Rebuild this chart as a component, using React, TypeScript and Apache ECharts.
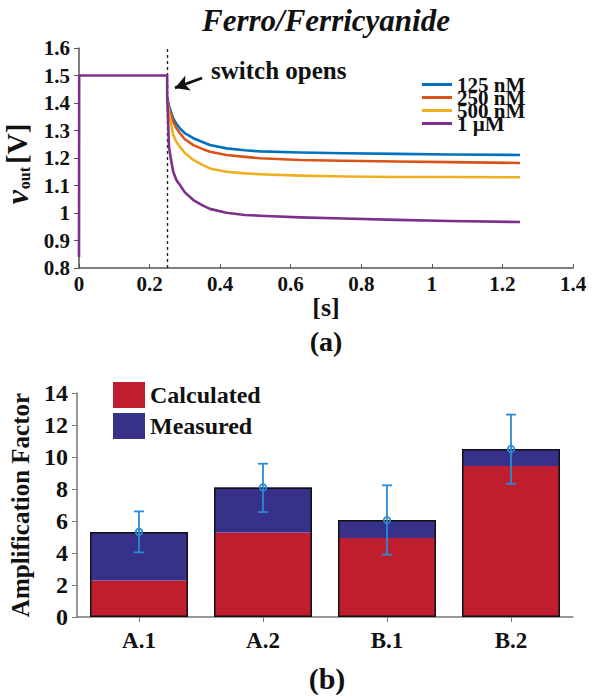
import React, { useEffect, useRef } from "react";
import * as echarts from "echarts";

// ---- Panel (a): Ferro/Ferricyanide transient ----
const tAfter = [0.25, 0.255, 0.26, 0.267, 0.276, 0.286, 0.3, 0.324, 0.35, 0.371, 0.418, 0.47, 0.513, 0.626, 0.75, 0.9, 1.05, 1.25];
const v125nM = [1.42, 1.39, 1.37, 1.344, 1.324, 1.308, 1.29, 1.272, 1.258, 1.247, 1.235, 1.228, 1.224, 1.22, 1.217, 1.215, 1.213, 1.211];
const v250nM = [1.42, 1.38, 1.36, 1.332, 1.308, 1.29, 1.268, 1.247, 1.233, 1.223, 1.211, 1.204, 1.199, 1.193, 1.19, 1.187, 1.185, 1.182];
const v500nM = [1.41, 1.36, 1.33, 1.284, 1.258, 1.241, 1.218, 1.193, 1.175, 1.162, 1.15, 1.144, 1.141, 1.136, 1.133, 1.131, 1.131, 1.13];
const v1uM = [1.43, 1.24, 1.2, 1.15, 1.12, 1.102, 1.075, 1.047, 1.028, 1.015, 1.001, 0.993, 0.99, 0.984, 0.98, 0.975, 0.971, 0.967];
const tBefore = [0, 0.0005, 0.2498];
const v1uMBefore = [0.84, 1.5, 1.5];
const lineNames = ["125 nM", "250 nM", "500 nM", "1 µM"];
const lineColors = ["#0072bd", "#d95319", "#edb120", "#7e2f8e"];
const switchTime = 0.25;

// ---- Panel (b): Amplification factor ----
const sensors = ["A.1", "A.2", "B.1", "B.2"];
const calculated = [2.28, 5.28, 4.93, 9.43];
const measuredMean = [5.32, 8.1, 6.06, 10.5];
const measuredLow = [4.04, 6.56, 3.9, 8.33];
const measuredHigh = [6.6, 9.58, 8.23, 12.65];

const FONT = "Liberation Serif";

function pairs(xs: number[], ys: number[]) {
  return xs.map((x, i) => [x, ys[i]]);
}

export default function App() {
  const ref = useRef<HTMLDivElement>(null);
  useEffect(() => {
    if (!ref.current) return;
    const chart = echarts.init(ref.current, null, { renderer: "svg" });
    const lineSeriesData = [
      pairs(tAfter, v125nM),
      pairs(tAfter, v250nM),
      pairs(tAfter, v500nM),
      pairs(tBefore, v1uMBefore).concat(pairs(tAfter, v1uM)),
    ];
    const lineSeries: any[] = lineNames.map((name, i) => ({
      name,
      type: "line",
      xAxisIndex: 0,
      yAxisIndex: 0,
      data: lineSeriesData[i],
      showSymbol: false,
      smooth: false,
      color: lineColors[i],
      lineStyle: { width: 2.6, color: lineColors[i], join: "round" },
      z: 3,
    }));
    lineSeries[0].markLine = {
      silent: true,
      symbol: "none",
      label: { show: false },
      lineStyle: { type: [3, 3], color: "#222", width: 1.4 },
      data: [{ xAxis: switchTime }],
      z: 1,
    };
    lineSeries[3].markLine = {
      silent: true,
      symbol: ["none", "arrow"],
      symbolSize: [12, 14],
      label: { show: false },
      lineStyle: { type: "solid", color: "#111", width: 2.8 },
      data: [[{ coord: [0.349, 1.491] }, { coord: [0.272, 1.455] }]],
    };

    const measuredExtra = measuredMean.map((m, i) => +(m - calculated[i]).toFixed(3));

    const option: any = {
      animation: false,
      textStyle: { fontFamily: FONT },
      graphic: [
        {
          type: "text",
          x: 326,
          y: 20,
          style: {
            text: "Ferro/Ferricyanide",
            font: `italic bold 31px "${FONT}"`,
            fill: "#111",
            align: "center",
            verticalAlign: "middle",
          },
        },
        {
          type: "text",
          x: 211,
          y: 70,
          style: {
            text: "switch opens",
            font: `bold 25px "${FONT}"`,
            fill: "#111",
            align: "left",
            verticalAlign: "middle",
          },
        },
        {
          type: "text",
          x: 326,
          y: 341,
          style: {
            text: "(a)",
            font: `bold 28px "${FONT}"`,
            fill: "#111",
            align: "center",
            verticalAlign: "middle",
          },
        },
        {
          type: "text",
          x: 327,
          y: 678,
          style: {
            text: "(b)",
            font: `bold 30px "${FONT}"`,
            fill: "#111",
            align: "center",
            verticalAlign: "middle",
          },
        },
      ],
      legend: [
        {
          data: lineNames,
          orient: "vertical",
          left: 422,
          top: 74,
          padding: 0,
          itemGap: -8,
          itemWidth: 30,
          itemHeight: 3,
          icon: "rect",
          selectedMode: false,
          textStyle: { fontFamily: FONT, fontSize: 21, fontWeight: "bold", color: "#111" },
        },
        {
          data: ["Calculated", "Measured"],
          orient: "vertical",
          left: 113,
          top: 382,
          padding: 0,
          itemGap: 5,
          itemWidth: 32,
          itemHeight: 26,
          icon: "rect",
          selectedMode: false,
          textStyle: { fontFamily: FONT, fontSize: 24, fontWeight: "bold", color: "#111", lineHeight: 26 },
        },
      ],
      grid: [
        { left: 79, top: 48, width: 494, height: 220, outerBoundsMode: "none", containLabel: false },
        { left: 77, top: 393, width: 496, height: 224, outerBoundsMode: "none", containLabel: false },
      ],
      xAxis: [
        {
          gridIndex: 0,
          type: "value",
          min: 0,
          max: 1.4,
          interval: 0.2,
          name: "[s]",
          nameLocation: "middle",
          nameGap: 26,
          nameTextStyle: { fontFamily: FONT, fontSize: 26, fontWeight: "bold", color: "#111" },
          axisLine: { lineStyle: { color: "#555", width: 1.5 } },
          axisTick: { show: true, inside: true, length: 4, lineStyle: { color: "#555" } },
          splitLine: { show: false },
          axisLabel: {
            margin: 5,
            fontFamily: FONT,
            fontSize: 21,
            fontWeight: "bold",
            color: "#111",
            formatter: (v: number) => String(+v.toFixed(1)),
          },
        },
        {
          gridIndex: 1,
          type: "category",
          data: sensors,
          axisLine: { lineStyle: { color: "#777", width: 1.5 } },
          axisTick: { show: true, alignWithLabel: true, length: 5, lineStyle: { color: "#777" } },
          axisLabel: { margin: 12, fontFamily: FONT, fontSize: 23, fontWeight: "bold", color: "#111" },
        },
      ],
      yAxis: [
        {
          gridIndex: 0,
          type: "value",
          min: 0.8,
          max: 1.6,
          interval: 0.1,
          name: "{v|v}{s|out} {b|[V]}",
          nameLocation: "middle",
          nameGap: 36,
          nameTextStyle: {
            color: "#111",
            rich: {
              v: { fontFamily: FONT, fontSize: 32, fontStyle: "italic", fontWeight: "bold", lineHeight: 32 },
              s: { fontFamily: FONT, fontSize: 16, fontWeight: "bold", lineHeight: 32, verticalAlign: "bottom", padding: [11, 0, 0, 1] },
              b: { fontFamily: FONT, fontSize: 29, fontWeight: "bold", lineHeight: 32, padding: [0, 12, 0, 0] },
            },
          },
          axisLine: { show: true, lineStyle: { color: "#555", width: 1.5 } },
          axisTick: { show: true, length: 5, lineStyle: { color: "#555" } },
          splitLine: { show: false },
          axisLabel: {
            margin: 9,
            fontFamily: FONT,
            fontSize: 21,
            fontWeight: "bold",
            color: "#111",
            formatter: (v: number) => String(+v.toFixed(1)),
          },
        },
        {
          gridIndex: 1,
          type: "value",
          min: 0,
          max: 14,
          interval: 2,
          name: "Amplification Factor",
          nameLocation: "middle",
          nameGap: 42,
          nameTextStyle: { fontFamily: FONT, fontSize: 25, fontWeight: "bold", color: "#111" },
          axisLine: { show: true, lineStyle: { color: "#777", width: 1.5 } },
          axisTick: { show: true, length: 5, lineStyle: { color: "#777" } },
          splitLine: { show: false },
          axisLabel: { margin: 9, fontFamily: FONT, fontSize: 24, fontWeight: "bold", color: "#111" },
        },
      ],
      series: [
        ...lineSeries,
        {
          name: "Calculated",
          type: "bar",
          xAxisIndex: 1,
          yAxisIndex: 1,
          stack: "amp",
          barWidth: 98,
          data: calculated,
          itemStyle: { color: "#be1e2d" },
          color: "#be1e2d",
        },
        {
          name: "Measured",
          type: "bar",
          xAxisIndex: 1,
          yAxisIndex: 1,
          stack: "amp",
          barWidth: 98,
          data: measuredExtra,
          itemStyle: { color: "#37318a" },
          color: "#37318a",
        },
        {
          name: "outline",
          type: "bar",
          xAxisIndex: 1,
          yAxisIndex: 1,
          barWidth: 98,
          barGap: "-100%",
          data: measuredMean,
          itemStyle: { color: "rgba(0,0,0,0)", borderColor: "#111", borderWidth: 1.5 },
          z: 3,
          silent: true,
        },
        {
          name: "error",
          type: "custom",
          xAxisIndex: 1,
          yAxisIndex: 1,
          z: 5,
          data: sensors.map((_, i) => [i, measuredLow[i], measuredHigh[i], measuredMean[i]]),
          renderItem: (params: any, api: any) => {
            const lo = api.coord([api.value(0), api.value(1)]);
            const hi = api.coord([api.value(0), api.value(2)]);
            const mid = api.coord([api.value(0), api.value(3)]);
            const style = { stroke: "#2a8ad4", lineWidth: 1.8, fill: "none" };
            const cap = 5;
            return {
              type: "group",
              children: [
                { type: "line", shape: { x1: lo[0], y1: lo[1], x2: hi[0], y2: hi[1] }, style },
                { type: "line", shape: { x1: hi[0] - cap, y1: hi[1], x2: hi[0] + cap, y2: hi[1] }, style },
                { type: "line", shape: { x1: lo[0] - cap, y1: lo[1], x2: lo[0] + cap, y2: lo[1] }, style },
                { type: "circle", shape: { cx: mid[0], cy: mid[1], r: 3.2 }, style },
              ],
            };
          },
        },
      ],
    };
    chart.setOption(option);
    return () => chart.dispose();
  }, []);
  return (
    <div
      ref={ref}
      style={{ position: "fixed", left: 0, top: 0, width: 596, height: 696, background: "#fff" }}
    />
  );
}
